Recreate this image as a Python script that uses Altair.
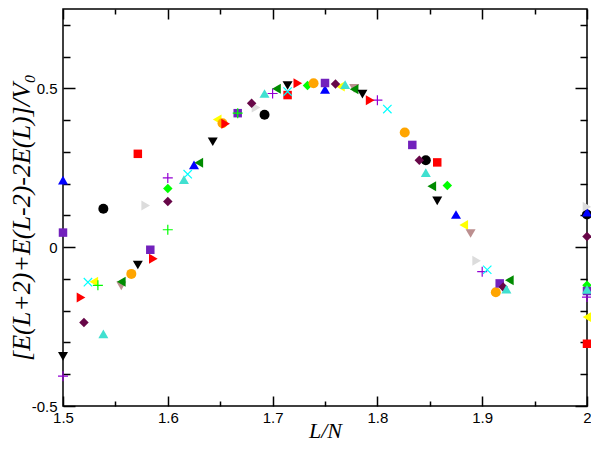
import altair as alt
import pandas as pd

# ---------------- data ----------------
series_color = ["#000000", "#FF0000", "#00FF00", "#0000FF", "#FFFF00", "#BC8F8F",
                "#DCDCDC", "#9400D3", "#00FFFF", "#FFA500", "#7221BC", "#670748",
                "#40E0D0", "#008B00", "#000000", "#FF0000", "#00FF00"]
PLUS = "M-1,0H1M0,-1V1"
CROSS = "M-1,-1L1,1M-1,1L1,-1"
series_shape = ["circle", "square", "diamond", "triangle-up", "triangle-left", "triangle-down",
                "triangle-right", PLUS, CROSS, "circle", "square", "diamond",
                "triangle-up", "triangle-left", "triangle-down", "triangle-right", PLUS]

x_n13 = [1.5385, 1.6923, 1.8462, 2.0]
y_n13 = [0.121, 0.417, 0.274, 0.103]
x_n14 = [1.5714, 1.7143, 1.8571, 2.0]
y_n14 = [0.294, 0.479, 0.267, -0.304]
x_n15 = [1.6, 1.7333, 1.8667, 2.0]
y_n15 = [0.185, 0.509, 0.194, -0.120]
x_n16 = [1.5, 1.625, 1.75, 1.875, 2.0]
y_n16 = [0.211, 0.259, 0.497, 0.103, 0.110]
x_n17 = [1.5294, 1.6471, 1.7647, 1.8824, 2.0]
y_n17 = [-0.109, 0.402, 0.506, 0.070, -0.220]
x_n18 = [1.5556, 1.7778, 1.8889]
y_n18 = [-0.122, 0.500, 0.043]
x_n19 = [1.5789, 1.6842, 1.8947, 2.0]
y_n19 = [0.131, 0.440, -0.043, 0.127]
x_n20 = [1.5, 1.6, 1.7, 1.8, 1.9, 2.0]
y_n20 = [-0.406, 0.218, 0.484, 0.463, -0.077, -0.157]
x_n21 = [1.5238, 1.619, 1.7143, 1.8095, 1.9048]
y_n21 = [-0.110, 0.230, 0.490, 0.435, -0.071]
x_n23 = [1.5652, 1.6522, 1.7391, 1.8261, 1.913]
y_n23 = [-0.084, 0.390, 0.516, 0.361, -0.142]
x_n24 = [1.5, 1.5833, 1.6667, 1.75, 1.8333, 1.9167, 2.0]
y_n24 = [0.046, -0.008, 0.422, 0.517, 0.322, -0.114, -0.138]
x_n25 = [1.52, 1.6, 1.68, 1.76, 1.84, 1.92, 2.0]
y_n25 = [-0.237, 0.144, 0.453, 0.514, 0.274, -0.125, 0.034]
x_n26 = [1.5385, 1.6154, 1.6923, 1.7692, 1.8462, 1.9231, 2.0]
y_n26 = [-0.273, 0.213, 0.484, 0.512, 0.235, -0.132, -0.133]
x_n27 = [1.5556, 1.6296, 1.7037, 1.7778, 1.8519, 1.9259]
y_n27 = [-0.109, 0.266, 0.499, 0.497, 0.192, -0.104]
x_n28 = [1.5, 1.5714, 1.6429, 1.7143, 1.7857, 1.8571]
y_n28 = [-0.344, -0.056, 0.332, 0.509, 0.482, 0.146]
x_n29 = [1.5172, 1.5862, 1.6552, 1.7241, 1.7931]
y_n29 = [-0.158, -0.036, 0.389, 0.516, 0.463]
x_n30 = [1.5333, 1.6, 1.6667]
y_n30 = [-0.120, 0.055, 0.422]

series_x = [x_n13, x_n14, x_n15, x_n16, x_n17, x_n18, x_n19, x_n20, x_n21,
            x_n23, x_n24, x_n25, x_n26, x_n27, x_n28, x_n29, x_n30]
series_y = [y_n13, y_n14, y_n15, y_n16, y_n17, y_n18, y_n19, y_n20, y_n21,
            y_n23, y_n24, y_n25, y_n26, y_n27, y_n28, y_n29, y_n30]

x_major = [1.5, 1.6, 1.7, 1.8, 1.9, 2.0]
x_minor = [1.55, 1.65, 1.75, 1.85, 1.95]
y_major = [-0.5, 0, 0.5]
y_minor = [-0.4, -0.3, -0.2, -0.1, 0.1, 0.2, 0.3, 0.4, 0.6, 0.7]

# ---------------- styling ----------------
W, H = 524, 397
marker_size = {"circle": 100, "square": 72, "diamond": 90, "triangle-up": 100,
               "triangle-left": 100, "triangle-down": 100, "triangle-right": 100,
               PLUS: 100, CROSS: 70}

rows = []
for col, shp, xs, ys in zip(series_color, series_shape, series_x, series_y):
    stroked = shp in (PLUS, CROSS)
    for xv, yv in zip(xs, ys):
        rows.append({"x": xv, "y": yv, "color": col, "shape": shp,
                     "size": marker_size[shp], "sw": 1.2 if stroked else 0})
df = pd.DataFrame(rows)

xscale = alt.Scale(domain=[1.5, 2.0], nice=False, zero=False)
yscale = alt.Scale(domain=[-0.5, 0.75], nice=False, zero=False)

TICK = dict(domain=False, grid=False, tickColor="black", tickWidth=1.5)


def tick_axis(orient, values, size):
    return alt.Axis(orient=orient, values=values, offset=-size, tickSize=size,
                    labels=False, title=None, **TICK)


ax_bottom = alt.Axis(orient="bottom", values=x_major, offset=-10, tickSize=10,
                     labelExpr="'' + datum.value", labelFont="Liberation Sans",
                     labelFontSize=15, labelColor="black", labelPadding=4,
                     labelFlush=False, labelOverlap=False,
                     title="L/N", titleFont="Liberation Serif", titleFontStyle="italic",
                     titleFontWeight="normal", titleFontSize=22, titleColor="black",
                     titlePadding=-5, **TICK)
ay_left = alt.Axis(orient="left", values=y_major, offset=-12, tickSize=12,
                   labelExpr="'' + datum.value", labelFont="Liberation Sans",
                   labelFontSize=15, labelColor="black", labelPadding=6,
                   labelFlush=False, labelOverlap=False,
                   title="[E(L+2)+E(L-2)-2E(L)]/V₀",
                   titleFont="Liberation Serif, DejaVu Serif", titleFontStyle="italic",
                   titleFontWeight="normal", titleFontSize=26, titleColor="black",
                   titleX=-41, titleY=208, **TICK)

points = alt.Chart(df).mark_point(filled=True, opacity=1, clip=False).encode(
    x=alt.X("x:Q", scale=xscale, axis=ax_bottom),
    y=alt.Y("y:Q", scale=yscale, axis=ay_left),
    shape=alt.Shape("shape:N", scale=None),
    fill=alt.Fill("color:N", scale=None),
    stroke=alt.Stroke("color:N", scale=None),
    size=alt.Size("size:Q", scale=None),
    strokeWidth=alt.StrokeWidth("sw:Q", scale=None),
)


def ghost(ax_x, ax_y):
    return alt.Chart(df).mark_point(opacity=0).encode(
        x=alt.X("x:Q", scale=xscale, axis=ax_x),
        y=alt.Y("y:Q", scale=yscale, axis=ax_y),
    )


g1 = ghost(tick_axis("bottom", x_minor, 5), tick_axis("left", y_minor, 7))
g2 = ghost(tick_axis("top", x_major, 10), tick_axis("right", y_major, 12))
g3 = ghost(tick_axis("top", x_minor, 5), tick_axis("right", y_minor, 7))

chart = alt.layer(g1, g2, g3, points).resolve_axis(x="independent", y="independent").properties(
    width=W, height=H,
    autosize=alt.AutoSizeParams(type="none"),
    padding={"left": 55, "top": 1, "right": 4, "bottom": 37},
).configure_view(stroke="black", strokeWidth=1.5)

chart.save("out.html", embed_options={"renderer": "svg", "actions": False})
